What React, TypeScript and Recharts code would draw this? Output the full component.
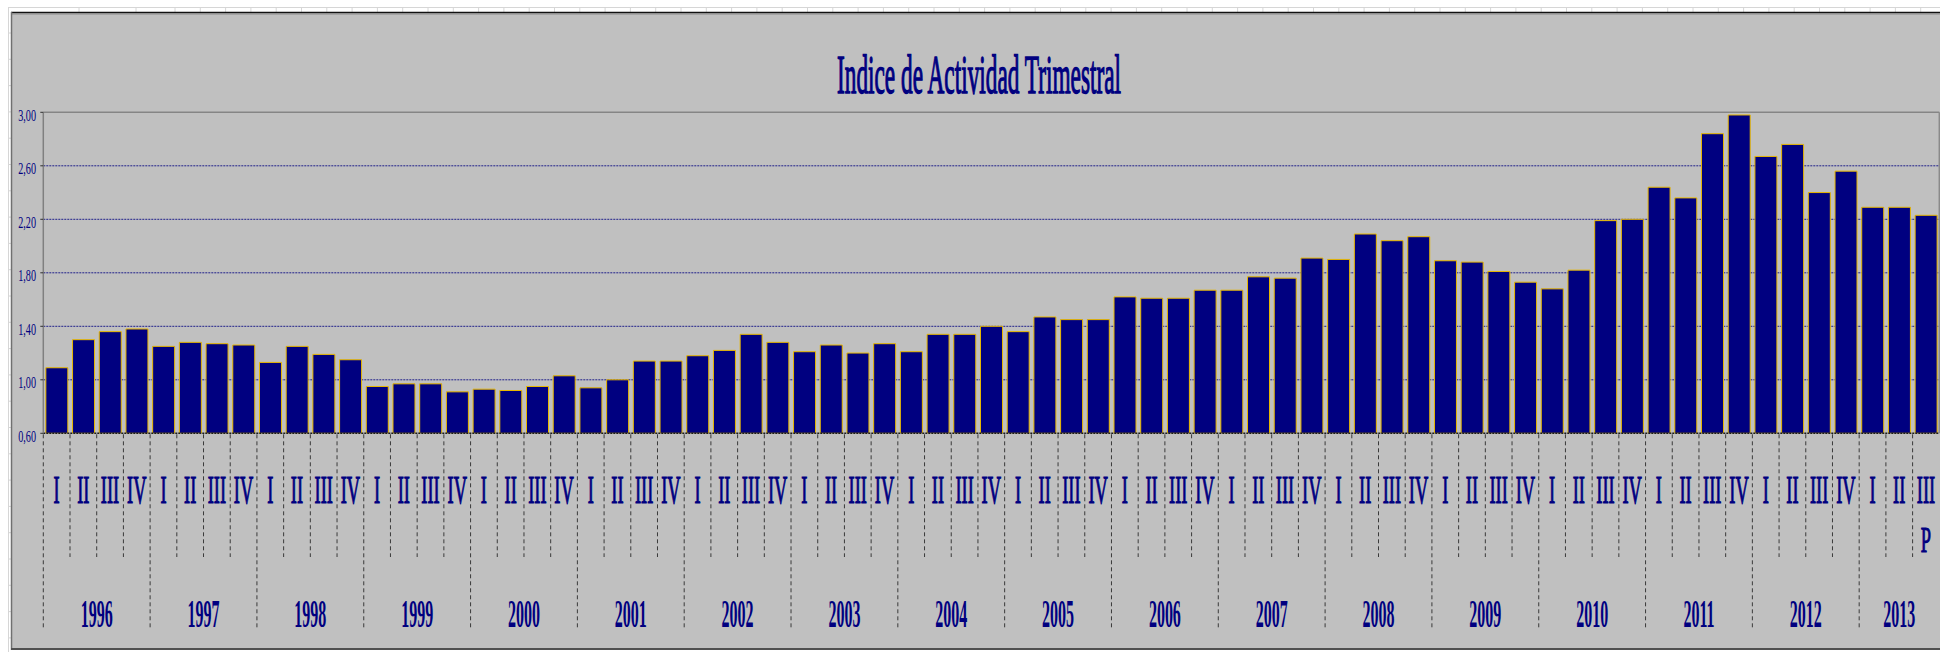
import React from "react";
import { BarChart, Bar, XAxis, YAxis, CartesianGrid, ReferenceLine } from "recharts";

// ---------- data ----------
const years = [
  "1996", "1997", "1998", "1999", "2000", "2001", "2002", "2003", "2004",
  "2005", "2006", "2007", "2008", "2009", "2010", "2011", "2012", "2013",
];
const quarterLabels = ["I", "II", "III", "IV"];
const activityIndex = [
  1.09, 1.30, 1.36, 1.38,
  1.25, 1.28, 1.27, 1.26,
  1.13, 1.25, 1.19, 1.15,
  0.95, 0.97, 0.97, 0.91,
  0.93, 0.92, 0.95, 1.03,
  0.94, 1.00, 1.14, 1.14,
  1.18, 1.22, 1.34, 1.28,
  1.21, 1.26, 1.20, 1.27,
  1.21, 1.34, 1.34, 1.40,
  1.36, 1.47, 1.45, 1.45,
  1.62, 1.61, 1.61, 1.67,
  1.67, 1.77, 1.76, 1.91,
  1.90, 2.09, 2.04, 2.07,
  1.89, 1.88, 1.81, 1.73,
  1.68, 1.82, 2.19, 2.20,
  2.44, 2.36, 2.84, 2.98,
  2.67, 2.76, 2.40, 2.56,
  2.29, 2.29, 2.23,
];
const provisionalNote = "P"; // shown under the last (provisional) quarter
const yTicks = [0.6, 1.0, 1.4, 1.8, 2.2, 2.6, 3.0];
const gridValues = [1.0, 1.4, 1.8, 2.2, 2.6];
const title = "Indice de Actividad Trimestral";

type Row = { key: string; year: string; q: string; value: number; note: string };
const data: Row[] = activityIndex.map((v, i) => ({
  key: `${years[Math.floor(i / 4)]}-${quarterLabels[i % 4]}`,
  year: years[Math.floor(i / 4)],
  q: quarterLabels[i % 4],
  value: v,
  note: i === activityIndex.length - 1 ? provisionalNote : "",
}));
const byKey: Record<string, Row> = {};
data.forEach((d) => (byKey[d.key] = d));
const yearCount: Record<string, number> = {};
data.forEach((d) => (yearCount[d.year] = (yearCount[d.year] || 0) + 1));

// ---------- layout ----------
const W = 1940;
const H = 652;
const PLOT_LEFT = 43.3;
const PLOT_RIGHT = 1939.3;
const PLOT_TOP = 112.3;
const PLOT_BOTTOM = 433.3;
const PLOT_W = PLOT_RIGHT - PLOT_LEFT;
const NAVY = "#000080";
const FONT = "'Liberation Serif', 'Times New Roman', serif";

function XTick(props: any) {
  const { x, payload } = props;
  const d = byKey[payload.value];
  if (!d) return null;
  const band = PLOT_W / data.length;
  const left = x - band / 2;
  const yearStart = d.q === "I";
  return (
    <g>
      <line
        x1={left}
        x2={left}
        y1={PLOT_BOTTOM + 1}
        y2={yearStart ? 630 : 557}
        stroke="#3a3a3a"
        strokeWidth={1}
        strokeDasharray="4 3"
      />
      <text
        transform={`translate(${x},503) scale(1,2.13)`}
        textAnchor="middle"
        fontSize={18.4}
        fontFamily={FONT}
        fill={NAVY}
        stroke={NAVY}
        strokeWidth={0.55}
      >
        {d.q}
      </text>
      {d.note ? (
        <text
          transform={`translate(${x},552) scale(1,2.0)`}
          textAnchor="middle"
          fontSize={18.4}
          fontFamily={FONT}
          fill={NAVY}
          stroke={NAVY}
          strokeWidth={0.55}
        >
          {d.note}
        </text>
      ) : null}
      {yearStart ? (
        <text
          transform={`translate(${left + (band * yearCount[d.year]) / 2},626.7) scale(1,2.5)`}
          textAnchor="middle"
          fontSize={16}
          fontWeight="bold"
          fontFamily={FONT}
          fill={NAVY}
        >
          {d.year}
        </text>
      ) : null}
    </g>
  );
}

function YTick(props: any) {
  const { y, payload } = props;
  const label = Number(payload.value).toFixed(2).replace(".", ",");
  return (
    <text
      transform={`translate(${PLOT_LEFT - 7.3},${y + 8.5}) scale(1,1.69)`}
      textAnchor="end"
      fontSize={10.2}
      fontFamily={FONT}
      fill={NAVY}
    >
      {label}
    </text>
  );
}

function Backdrop() {
  const colLines: number[] = [];
  for (let x = 175; x < W; x += 25.3) colLines.push(x);
  const rowLines: number[] = [];
  for (let y = 33; y < H; y += 26.3) rowLines.push(y);
  return (
    <svg width={W} height={H} style={{ position: "absolute", left: 0, top: 0 }}>
      <rect x={0} y={0} width={W} height={H} fill="#ffffff" />
      <line x1={8} x2={W} y1={7.5} y2={7.5} stroke="#d6d6d6" />
      <line x1={8.5} x2={8.5} y1={7} y2={H} stroke="#d6d6d6" />
      {[79, 136].concat(colLines).map((x, i) => (
        <line key={"c" + i} x1={x} x2={x} y1={7} y2={12} stroke="#d6d6d6" />
      ))}
      {rowLines.map((y, i) => (
        <line key={"r" + i} x1={8} x2={11} y1={y} y2={y} stroke="#d6d6d6" />
      ))}
      <rect x={11} y={12} width={W} height={637} fill="#C0C0C0" />
      <line x1={11} x2={W} y1={12.5} y2={12.5} stroke="#111111" strokeWidth={1.5} />
      <line x1={11} x2={W} y1={14} y2={14} stroke="#8a8a8a" strokeWidth={1} />
      <line x1={11.5} x2={11.5} y1={12} y2={650} stroke="#707070" strokeWidth={1.5} />
      <line x1={11} x2={W} y1={649} y2={649} stroke="#505050" strokeWidth={2} />
      <line x1={PLOT_RIGHT} x2={PLOT_RIGHT} y1={PLOT_TOP} y2={PLOT_BOTTOM} stroke="#8a8a8a" strokeWidth={1.5} />
      <text
        transform={`translate(979,93.3) scale(1,2.36)`}
        textAnchor="middle"
        fontSize={23.3}
        fontFamily={FONT}
        fill={NAVY}
        stroke={NAVY}
        strokeWidth={0.6}
      >
        {title}
      </text>
    </svg>
  );
}

export default function App() {
  return (
    <div style={{ position: "absolute", left: 0, top: 0, width: W, height: H, overflow: "hidden" }}>
      <Backdrop />
      <div style={{ position: "absolute", left: 0, top: 0 }}>
        <BarChart
          width={W}
          height={H}
          data={data}
          margin={{ top: PLOT_TOP, right: W - PLOT_RIGHT, bottom: 0, left: 0 }}
          barCategoryGap="9.5%"
        >
          <CartesianGrid
            vertical={false}
            horizontalValues={gridValues}
            stroke="#20208a"
            strokeDasharray="2 1"
            strokeWidth={1}
          />
          <XAxis
            dataKey="key"
            interval={0}
            height={H - PLOT_BOTTOM}
            tickLine={false}
            axisLine={{ stroke: "#1a1a1a", strokeDasharray: "2 1", strokeWidth: 1.5 }}
            tick={<XTick />}
          />
          <YAxis
            type="number"
            domain={[0.6, 3.0]}
            ticks={yTicks}
            allowDataOverflow
            width={PLOT_LEFT}
            tickSize={3}
            tickMargin={4}
            tickLine={{ stroke: "#303030" }}
            axisLine={{ stroke: "#808080", strokeWidth: 1.5 }}
            tick={<YTick />}
          />
          <ReferenceLine y={3.0} stroke="#858585" strokeWidth={1.5} />
          <Bar
            dataKey="value"
            fill={NAVY}
            stroke="#E8B800"
            strokeWidth={1}
            isAnimationActive={false}
          />
        </BarChart>
      </div>
    </div>
  );
}
